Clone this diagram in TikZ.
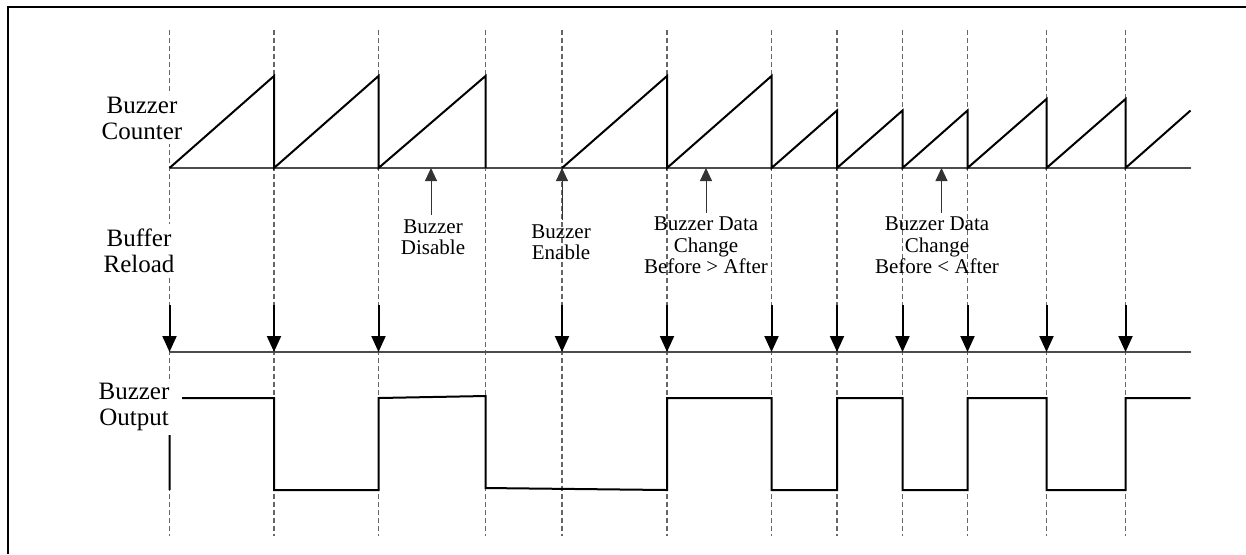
\documentclass[tikz,border=0pt]{standalone}
\usepackage{fontspec}
\setmainfont{Liberation Serif}
\usetikzlibrary{arrows.meta}
\begin{document}
\begin{tikzpicture}[x=0.5pt,y=-0.5pt,
  sig/.style={line width=1pt, line join=miter},
  axisline/.style={line width=0.6pt, black!70},
  gridline/.style={line width=0.6pt, black!60, dash pattern=on 2.5pt off 1.5pt},
  reloadarrow/.style={line width=1pt, -{Triangle[length=8pt,width=7pt]}},
  eventarrow/.style={line width=0.5pt, black!80, -{Triangle[length=6.5pt,width=6pt]}},
  biglabel/.style={font=\fontsize{12.5}{13.2}\selectfont, align=center, fill=white, inner sep=2pt, anchor=north},
  smalllabel/.style={font=\fontsize{10.5}{10.7}\selectfont, align=center, inner sep=2pt, anchor=north},
]
\useasboundingbox (0,0) rectangle (1246,554);
% frame
\draw[line width=1.4pt] (8,554) -- (8,7) -- (1246,7);
% dashed time marks
\foreach \x in {169.5,274,378.5,485.5,562,667,771.5,837,902.5,967.5,1046.5,1125.5}
  \draw[gridline] (\x,30) -- (\x,536);
% counter
\draw[axisline] (169.5,168) -- (1190.5,168);
\draw[sig] (169.5,168) -- (274,76) -- (274,168) -- (378.5,76) -- (378.5,168) -- (485.5,76) -- (485.5,168);
\draw[sig] (562,168) -- (667,76) -- (667,168) -- (771.5,76) -- (771.5,168)
  -- (837,110.5) -- (837,168) -- (902.5,110.5) -- (902.5,168) -- (967.5,110.5) -- (967.5,168)
  -- (1046.5,99) -- (1046.5,168) -- (1125.5,99) -- (1125.5,168) -- (1190.5,110.5);
% reload
\draw[axisline] (169.5,352) -- (1190.5,352);
\foreach \x in {169.5,274,378.5,562,667,771.5,837,902.5,967.5,1046.5,1125.5}
  \draw[reloadarrow] (\x,305) -- (\x,352);
% output
\draw[sig] (169.5,490) -- (169.5,398) -- (274,398) -- (274,490) -- (378.5,490) -- (378.5,398)
  -- (485.5,396) -- (485.5,488) -- (667,490) -- (667,398) -- (771.5,398) -- (771.5,490)
  -- (837,490) -- (837,398) -- (902.5,398) -- (902.5,490) -- (967.5,490) -- (967.5,398)
  -- (1046.5,398) -- (1046.5,490) -- (1125.5,490) -- (1125.5,398) -- (1190.5,398);
% row labels
\node[biglabel] (lcnt) at (142,92.5) {Buzzer\\Counter};
\node[biglabel] (lrel) at (139,224) {Buffer\\Reload};
\node[biglabel, inner xsep=6.5pt] (lout) at (134,378.5) {Buzzer\\Output};
% events
\coordinate (edis) at (431,168);
\coordinate (eena) at (562,168);
\coordinate (echg1) at (706,168);
\coordinate (echg2) at (941.5,168);
\node[smalllabel] (ldis) at (433,215) {Buzzer\\Disable};
\node[smalllabel] (lena) at (561,220) {Buzzer\\Enable};
\node[smalllabel] (lchg1) at (706,212.7) {Buzzer Data\\Change\\Before {>} After};
\node[smalllabel] (lchg2) at (937,212.7) {Buzzer Data\\Change\\Before {<} After};
\draw[eventarrow] (ldis.north -| edis) -- (edis);
\draw[eventarrow] (lena.north -| eena) -- (eena);
\draw[eventarrow] (lchg1.north -| echg1) -- (echg1);
\draw[eventarrow] (lchg2.north -| echg2) -- (echg2);
\end{tikzpicture}
\end{document}
